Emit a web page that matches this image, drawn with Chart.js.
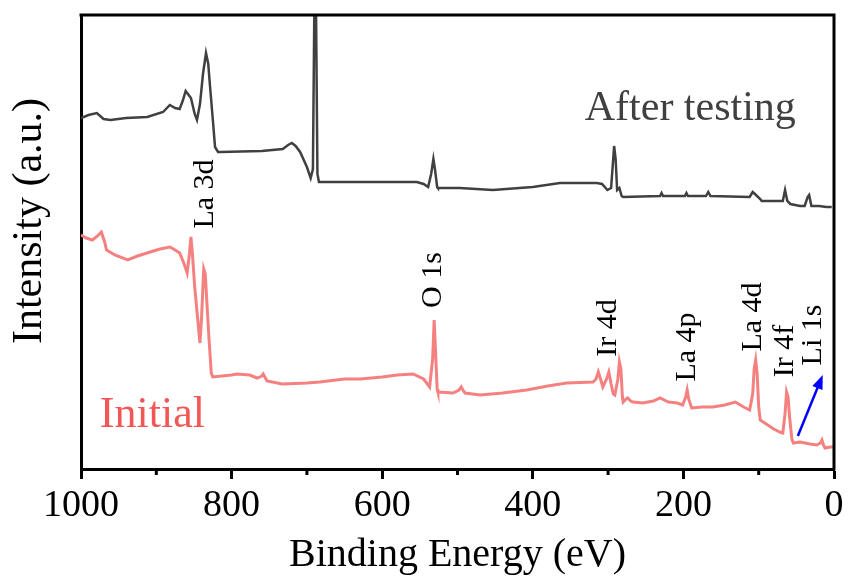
<!DOCTYPE html>
<html>
<head>
<meta charset="utf-8">
<script src="https://cdn.jsdelivr.net/npm/chart.js@4/dist/chart.umd.min.js"></script>
<style>
  body { margin: 0; background: #fff; }
  #wrap { width: 848px; height: 579px; }
</style>
</head>
<body>
<div id="wrap"><canvas id="xps" width="848" height="579"></canvas></div>
<script>
// binding energy (eV) and intensity (a.u., offset) for each spectrum
const afterEnergy = [1000, 990, 979, 970, 961, 940, 912, 891, 882, 875, 869, 865, 861, 857, 854, 849, 846, 842, 838, 834, 831, 829, 825, 822, 818, 815, 760, 732, 725, 720, 715, 709, 700, 695, 692, 690, 688, 686, 684, 650, 616, 554, 545, 539, 535, 532, 530, 527, 526, 497, 453, 400, 364, 315, 308, 301, 296, 292, 290, 288, 285, 282, 280, 231, 229, 227, 198, 196, 194, 170, 167, 164, 112, 108, 105, 98, 96, 80, 68, 65, 62, 58, 45, 39, 35, 33, 30, 20, 10, 3];
const afterCounts = [351, 354, 356, 350, 349, 351, 352, 357, 364, 361, 360, 368, 378, 374, 371, 355, 349, 365, 395, 416, 405, 386, 350, 322, 317, 317, 318, 320, 324, 326, 323, 317, 302, 291, 300, 470, 470, 295, 287, 287, 287, 287, 285, 282, 295, 310, 300, 282, 281, 281, 279, 282, 286, 286, 285, 279, 281, 323, 310, 279, 281, 273, 272, 273, 276, 273, 273, 276, 273, 273, 277, 273, 272, 277, 275, 270, 268, 268, 268, 279, 268, 265, 263, 263, 272, 274, 263, 263, 262, 262];

const initEnergy = [1000, 993, 985, 978, 973, 969, 966, 955, 938, 925, 908, 895, 882, 875, 869, 863, 859, 856, 854, 852, 849, 845, 842, 840, 837, 835, 833, 830, 827, 825, 800, 793, 776, 766, 760, 758, 753, 733, 700, 683, 650, 629, 600, 580, 559, 545, 537, 533, 531, 529, 527, 526, 506, 498, 495, 492, 490, 470, 440, 408, 380, 355, 320, 316, 313, 310, 307, 302, 299, 296, 293, 291, 287, 285, 283, 281, 280, 276, 274, 270, 267, 254, 240, 231, 220, 208, 201, 197, 195, 193, 189, 175, 161, 145, 131, 120, 112, 108, 106, 104, 102, 100, 98, 92, 80, 72, 68, 65, 63, 61, 59, 56, 54, 45, 32, 23, 18, 16, 14, 12, 5, 0];
const initCounts = [234, 231, 229, 233, 237, 228, 219, 214, 209, 213, 217, 220, 222, 219, 216, 205, 196, 215, 232, 215, 182, 150, 126, 150, 200, 195, 169, 130, 96, 92, 94, 95, 94, 91, 93, 95, 88, 85, 86, 87, 90, 90, 92, 94, 95, 90, 82, 110, 149, 115, 80, 77, 76, 79, 82, 78, 76, 74, 76, 79, 83, 86, 87, 90, 97, 90, 82, 90, 97, 85, 75, 74, 90, 107, 100, 72, 67, 70, 71, 68, 67, 66, 68, 71, 67, 66, 64, 72, 79, 70, 61, 62, 62, 64, 67, 62, 59, 75, 100, 109, 95, 62, 49, 46, 40, 37, 36, 55, 77, 72, 52, 30, 26, 27, 25, 24, 26, 29, 24, 21, 22, 22];

// x tick values and the ones that carry a label
const xTicks = [0, 100, 200, 300, 400, 500, 600, 700, 800, 900, 1000];
const xLabelled = [0, 200, 400, 600, 800, 1000];

// peak labels: [text, energy, intensity at text centre]
const peakNames = ['La 3d', 'O 1s', 'Ir 4d', 'La 4p', 'La 4d', 'Ir 4f', 'Li 1s'];
const peakEnergy = [835, 533, 300, 195, 108, 65, 28];
const peakLevel = [275, 189, 141, 122, 152, 118, 134];

// Li 1s arrow, tail then head
const arrowEnergy = [48, 15];
const arrowLevel = [33, 94];

const FONT = '"Liberation Serif", "Times New Roman", serif';
Chart.defaults.font.family = FONT;
Chart.defaults.color = '#000';

const toPoints = (xs, ys) => xs.map((x, i) => ({x: x, y: ys[i]}));

const decor = {
  id: 'decor',
  afterDraw(chart) {
    const {ctx, chartArea: a, scales: {x, y}} = chart;
    ctx.save();

    // frame top + right
    ctx.strokeStyle = '#000';
    ctx.lineWidth = 3;
    ctx.beginPath();
    ctx.moveTo(a.left - 1.5, a.top);
    ctx.lineTo(a.right, a.top);
    ctx.lineTo(a.right, a.bottom + 1.5);
    ctx.stroke();

    // short minor ticks
    xTicks.filter(v => !xLabelled.includes(v)).forEach(v => {
      const px = x.getPixelForValue(v);
      ctx.beginPath();
      ctx.moveTo(px, a.bottom);
      ctx.lineTo(px, a.bottom + 6);
      ctx.stroke();
    });

    // peak names, rotated
    ctx.fillStyle = '#000';
    ctx.font = '30px ' + FONT;
    ctx.textAlign = 'center';
    ctx.textBaseline = 'middle';
    peakNames.forEach((name, i) => {
      ctx.save();
      ctx.translate(x.getPixelForValue(peakEnergy[i]), y.getPixelForValue(peakLevel[i]));
      ctx.rotate(-Math.PI / 2);
      ctx.fillText(name, 0, 0);
      ctx.restore();
    });

    // series names
    ctx.textAlign = 'left';
    ctx.textBaseline = 'alphabetic';
    ctx.font = '42px ' + FONT;
    ctx.fillStyle = '#404040';
    ctx.fillText('After testing', x.getPixelForValue(331), y.getPixelForValue(349));
    ctx.font = '44px ' + FONT;
    ctx.fillStyle = '#f25757';
    ctx.fillText('Initial', x.getPixelForValue(975), y.getPixelForValue(42));

    // blue arrow to Li 1s
    const x0 = x.getPixelForValue(arrowEnergy[0]), y0 = y.getPixelForValue(arrowLevel[0]);
    const x1 = x.getPixelForValue(arrowEnergy[1]), y1 = y.getPixelForValue(arrowLevel[1]);
    const ang = Math.atan2(y1 - y0, x1 - x0);
    ctx.strokeStyle = '#0000ff';
    ctx.fillStyle = '#0000ff';
    ctx.lineWidth = 2.5;
    ctx.beginPath();
    ctx.moveTo(x0, y0);
    ctx.lineTo(x1 - 8 * Math.cos(ang), y1 - 8 * Math.sin(ang));
    ctx.stroke();
    ctx.beginPath();
    ctx.moveTo(x1, y1);
    ctx.lineTo(x1 - 14 * Math.cos(ang) + 5.5 * Math.sin(ang), y1 - 14 * Math.sin(ang) - 5.5 * Math.cos(ang));
    ctx.lineTo(x1 - 14 * Math.cos(ang) - 5.5 * Math.sin(ang), y1 - 14 * Math.sin(ang) + 5.5 * Math.cos(ang));
    ctx.closePath();
    ctx.fill();

    // y axis title
    ctx.save();
    ctx.font = '42px ' + FONT;
    ctx.fillStyle = '#000';
    ctx.textAlign = 'center';
    ctx.textBaseline = 'middle';
    ctx.translate(30, 221);
    ctx.rotate(-Math.PI / 2);
    ctx.fillText('Intensity (a.u.)', 0, 0);
    ctx.restore();

    ctx.restore();
  }
};

new Chart(document.getElementById('xps').getContext('2d'), {
  type: 'line',
  data: {
    datasets: [
      {
        label: 'After testing',
        data: toPoints(afterEnergy, afterCounts),
        borderColor: '#404040',
        borderWidth: 2.5,
        pointRadius: 0,
        tension: 0
      },
      {
        label: 'Initial',
        data: toPoints(initEnergy, initCounts),
        borderColor: '#f58080',
        borderWidth: 3,
        pointRadius: 0,
        tension: 0
      }
    ]
  },
  options: {
    responsive: false,
    animation: false,
    layout: { padding: { left: 0, right: 14, top: 15, bottom: 0 } },
    plugins: { legend: { display: false }, tooltip: { enabled: false } },
    scales: {
      x: {
        type: 'linear',
        reverse: true,
        min: 0,
        max: 1000,
        afterFit: s => { s.height = 110; },
        afterBuildTicks: s => { s.ticks = xTicks.map(v => ({value: v})); },
        ticks: {
          autoSkip: false,
          maxRotation: 0,
          padding: 4,
          font: { size: 38 },
          color: '#000',
          callback: v => (xLabelled.includes(v) ? String(v) : '')
        },
        grid: {
          drawOnChartArea: false,
          tickLength: 10,
          tickWidth: 3,
          tickColor: c => (c.tick && xLabelled.includes(c.tick.value) ? '#000' : 'rgba(0,0,0,0)')
        },
        border: { display: true, color: '#000', width: 3 },
        title: {
          display: true,
          text: 'Binding Energy (eV)',
          font: { size: 40 },
          color: '#000',
          padding: { top: 0, bottom: 0 }
        }
      },
      y: {
        min: 0,
        max: 454,
        afterFit: s => { s.width = 81; },
        ticks: { display: false },
        grid: { drawOnChartArea: false, drawTicks: false },
        border: { display: true, color: '#000', width: 3 }
      }
    }
  },
  plugins: [decor]
});
</script>
</body>
</html>
